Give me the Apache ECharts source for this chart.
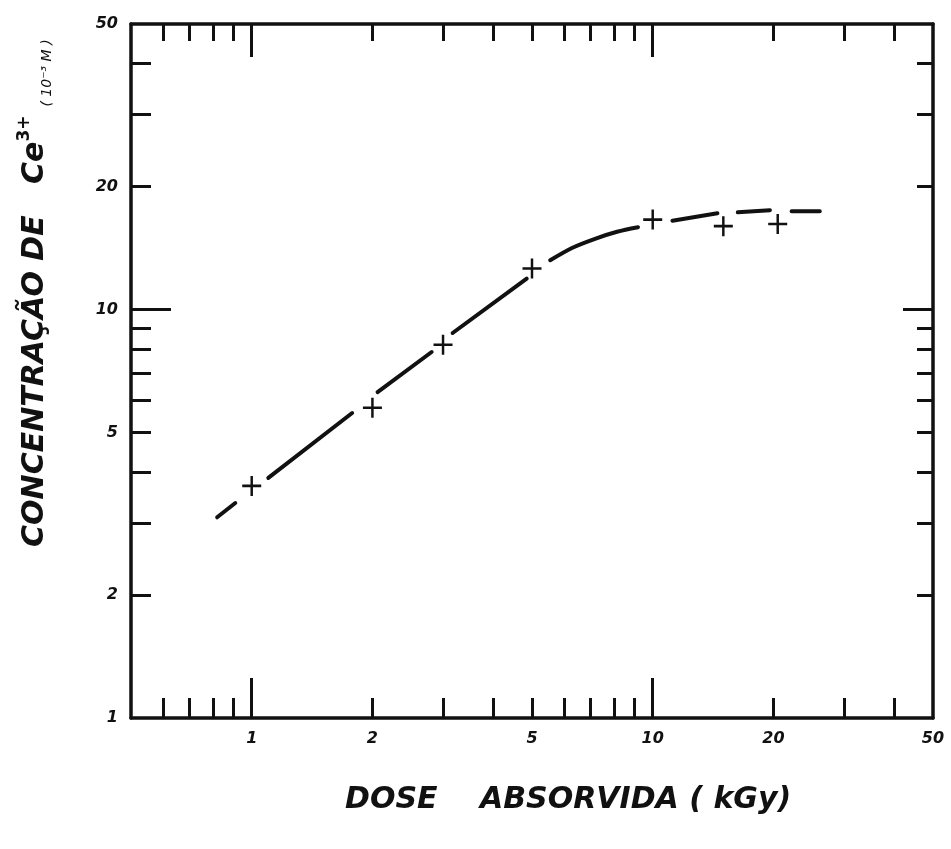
<!DOCTYPE html>
<html>
<head>
<meta charset="utf-8">
<script src="https://cdn.jsdelivr.net/npm/echarts@6/dist/echarts.min.js"></script>
<style>
  html, body { margin: 0; padding: 0; background: #fff; }
  #chart { width: 951px; height: 849px; }
</style>
</head>
<body>
<div id="chart"></div>
<script>
// measured points (dose in kGy, Ce3+ in 10^-3 M)
const doseValues = [1, 2, 3, 5, 10, 15, 20.5];
const concValues = [3.7, 5.75, 8.2, 12.6, 16.6, 16.0, 16.2];

// hand drawn curve, null = gap where the pen was lifted
const curveDose = [0.82, 0.91, null, 1.10, 1.78, null, 2.06, 2.81, null, 3.17, 4.85, null, 5.55, 6.29, 7.18, 8.15, 9.19, null, 11.2, 14.5, null, 16.3, 19.6, null, 22.2, 26.1];
const curveConc = [3.10, 3.36, null, 3.87, 5.58, null, 6.28, 7.87, null, 8.76, 11.9, null, 13.2, 14.15, 14.9, 15.5, 15.9, null, 16.5, 17.2, null, 17.3, 17.5, null, 17.4, 17.4];

const doseMinorTicks = [0.6, 0.7, 0.8, 0.9, 2, 3, 4, 5, 6, 7, 8, 9, 20, 30, 40];
const doseMajorTicks = [1, 10];
const doseLabels = [1, 2, 5, 10, 20, 50];
const concMinorTicks = [2, 3, 4, 5, 6, 7, 8, 9, 20, 30, 40];
const concMajorTicks = [10];
const concLabels = [1, 2, 5, 10, 20, 50];

const ink = '#111';
const numFont = { color: ink, fontFamily: 'DejaVu Sans', fontWeight: 'bold', fontStyle: 'italic', fontSize: 16 };

function logAxis(position, min, max, ticks, len, showLine, labels) {
  return {
    type: 'log',
    logBase: 10,
    min: min,
    max: max,
    position: position,
    axisLine: { show: showLine, lineStyle: { color: ink, width: 3.5 } },
    axisTick: { show: true, inside: true, length: len, customValues: ticks, lineStyle: { color: ink, width: 3 } },
    axisLabel: labels ? Object.assign({ show: true, customValues: labels, margin: 13 }, numFont) : { show: false },
    splitLine: { show: false },
    minorTick: { show: false },
    minorSplitLine: { show: false }
  };
}

const chart = echarts.init(document.getElementById('chart'));
chart.setOption({
  backgroundColor: '#fff',
  animation: false,
  grid: { left: 131, right: 18, top: 24, bottom: 131, containLabel: false, outerBoundsMode: 'none' },
  xAxis: [
    logAxis('bottom', 0.5, 50, doseMinorTicks, 20, true, doseLabels),
    logAxis('bottom', 0.5, 50, doseMajorTicks, 40, false),
    logAxis('top', 0.5, 50, doseMinorTicks, 17, true),
    logAxis('top', 0.5, 50, doseMajorTicks, 33, false)
  ],
  yAxis: [
    logAxis('left', 1, 50, concMinorTicks, 20, true, concLabels),
    logAxis('left', 1, 50, concMajorTicks, 40, false),
    logAxis('right', 1, 50, concMinorTicks, 16, true),
    logAxis('right', 1, 50, concMajorTicks, 30, false)
  ],
  graphic: [
    {
      type: 'text', left: 345, top: 785,
      style: { text: 'DOSE', fill: ink, font: 'italic bold 30px "DejaVu Sans"' }
    },
    {
      type: 'text', left: 480, top: 785,
      style: { text: 'ABSORVIDA ( kGy)', fill: ink, font: 'italic bold 30px "DejaVu Sans"' }
    },
    {
      type: 'text', x: 35, y: 547, rotation: Math.PI / 2,
      style: {
        text: '{m|CONCENTRAÇÃO DE   Ce}{s|3+}{t|  ( 10⁻³ M )}',
        align: 'left', verticalAlign: 'middle', fill: ink,
        rich: {
          m: { fontFamily: 'DejaVu Sans', fontWeight: 'bold', fontStyle: 'italic', fontSize: 30, lineHeight: 38, fill: ink },
          s: { fontFamily: 'DejaVu Sans', fontWeight: 'bold', fontSize: 17, lineHeight: 38, verticalAlign: 'top', fill: ink },
          t: { fontFamily: 'DejaVu Sans', fontStyle: 'italic', fontSize: 14, lineHeight: 38, verticalAlign: 'bottom', fill: ink }
        }
      }
    }
  ],
  series: [
    {
      type: 'line',
      xAxisIndex: 0,
      yAxisIndex: 0,
      data: curveDose.map((d, i) => d === null ? ['-', '-'] : [d, curveConc[i]]),
      showSymbol: false,
      symbol: 'none',
      smooth: 0.3,
      connectNulls: false,
      lineStyle: { color: ink, width: 4, cap: 'round' }
    },
    {
      type: 'scatter',
      xAxisIndex: 0,
      yAxisIndex: 0,
      data: doseValues.map((d, i) => [d, concValues[i]]),
      symbol: 'path://M8.7,0h2.6v8.7h8.7v2.6h-8.7v8.7h-2.6v-8.7h-8.7v-2.6h8.7z',
      symbolSize: [19, 20],
      itemStyle: { color: ink, opacity: 1 }
    }
  ]
});
</script>
</body>
</html>
